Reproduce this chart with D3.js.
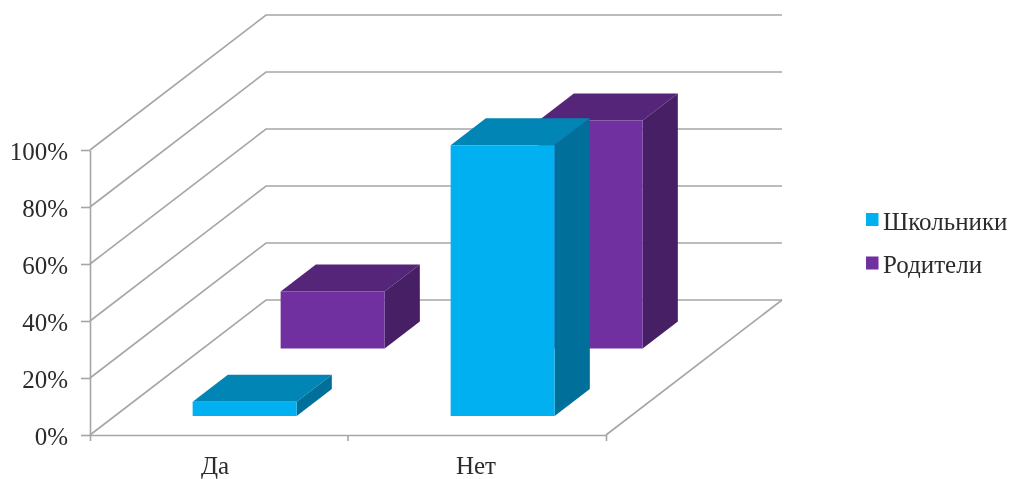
<!DOCTYPE html>
<html><head><meta charset="utf-8">
<script src="https://cdnjs.cloudflare.com/ajax/libs/d3/7.9.0/d3.min.js"></script>
<style>
html,body{margin:0;padding:0;background:#fff;overflow:hidden}
svg{filter:blur(0.45px)}
text{font-family:"Liberation Serif",serif;fill:#2b2b2b}
</style></head><body><svg id="c" width="1009" height="479"></svg>
<script>
const categories = ["Да", "Нет"];
const seriesNames = ["Школьники", "Родители"];
const schoolchildren = [5, 95];
const parents = [20, 80];
const yTicks = [0, 20, 40, 60, 80, 100];

const svg = d3.select("#c");
const y = d3.scaleLinear().domain([0, 100]).range([435, 150]);
const x = d3.scaleBand().domain(categories).range([90, 606]).paddingInner(0).paddingOuter(0);
const depthX = d3.scaleLinear().domain([0, 1]).range([0, 176]);
const depthY = d3.scaleLinear().domain([0, 1]).range([0, -135]);
const P = (px, v, t) => [px + depthX(t), y(v) + depthY(t)];
const line = d3.line();
const grid = "#a6a6a6";

const g = svg.append("g").attr("fill", "none").attr("stroke", grid).attr("stroke-width", 1.6);
yTicks.forEach(v => {
  g.append("path").attr("d", line([P(90, v, 0), P(90, v, 1), P(606, v, 1)]));
});
g.append("path").attr("d", line([P(606, 0, 1), P(606, 0, 0)]));

const axisY = svg.append("g").attr("transform", "translate(90,0)")
  .call(d3.axisLeft(y).tickValues(yTicks).tickSize(9).tickSizeOuter(0).tickFormat(d => d + "%"));
axisY.select(".domain").attr("stroke", grid).attr("stroke-width", 1.6);
axisY.selectAll("line").attr("stroke", grid).attr("stroke-width", 1.6);
axisY.selectAll("text").attr("x", -22).attr("dy", "0.37em").style("font-size", "25px").style("font-family", '"Liberation Serif",serif').style("fill", "#2b2b2b");

const axisX = svg.append("g").attr("transform", "translate(0,435)")
  .call(d3.axisBottom(x).tickSize(0).tickSizeOuter(6));
axisX.select(".domain").attr("stroke", grid).attr("stroke-width", 1.6);
axisX.selectAll("text").attr("y", 38.5).attr("dy", 0).attr("dx", (d, i) => i === 0 ? -4 : -1).style("font-size", "25px").style("font-family", '"Liberation Serif",serif').style("fill", "#2b2b2b");
axisX.append("line").attr("x1", x("Нет")).attr("x2", x("Нет")).attr("y1", 0).attr("y2", 6).attr("stroke", grid).attr("stroke-width", 1.6);

const seriesStyle = [
  { values: schoolchildren, t0: 0.14, t1: 0.34, front: "#00B0F0", top: "#0085B5", side: "#00709A" },
  { values: parents, t0: 0.64, t1: 0.84, front: "#7030A0", top: "#552579", side: "#471F65" }
];
const barOffset = 78, barWidth = 104;
[1, 0].forEach(si => {
  const s = seriesStyle[si];
  s.values.forEach((v, ci) => {
    const x0 = x(categories[ci]) + barOffset, x1 = x0 + barWidth;
    const poly = (pts, fill) => svg.append("path").attr("d", line(pts) + "Z").attr("fill", fill);
    poly([P(x0, v, s.t0), P(x1, v, s.t0), P(x1, v, s.t1), P(x0, v, s.t1)], s.top);
    poly([P(x1, 0, s.t0), P(x1, v, s.t0), P(x1, v, s.t1), P(x1, 0, s.t1)], s.side);
    poly([P(x0, 0, s.t0), P(x1, 0, s.t0), P(x1, v, s.t0), P(x0, v, s.t0)], s.front);
  });
});

const legend = svg.append("g");
seriesNames.forEach((n, i) => {
  legend.append("rect").attr("x", 866).attr("y", 213 + i * 43.5).attr("width", 12.5).attr("height", 13).attr("fill", seriesStyle[i].front);
  legend.append("text").attr("x", 883).attr("y", 230 + i * 43).style("font-size", "25px").text(n);
});
</script></body></html>
